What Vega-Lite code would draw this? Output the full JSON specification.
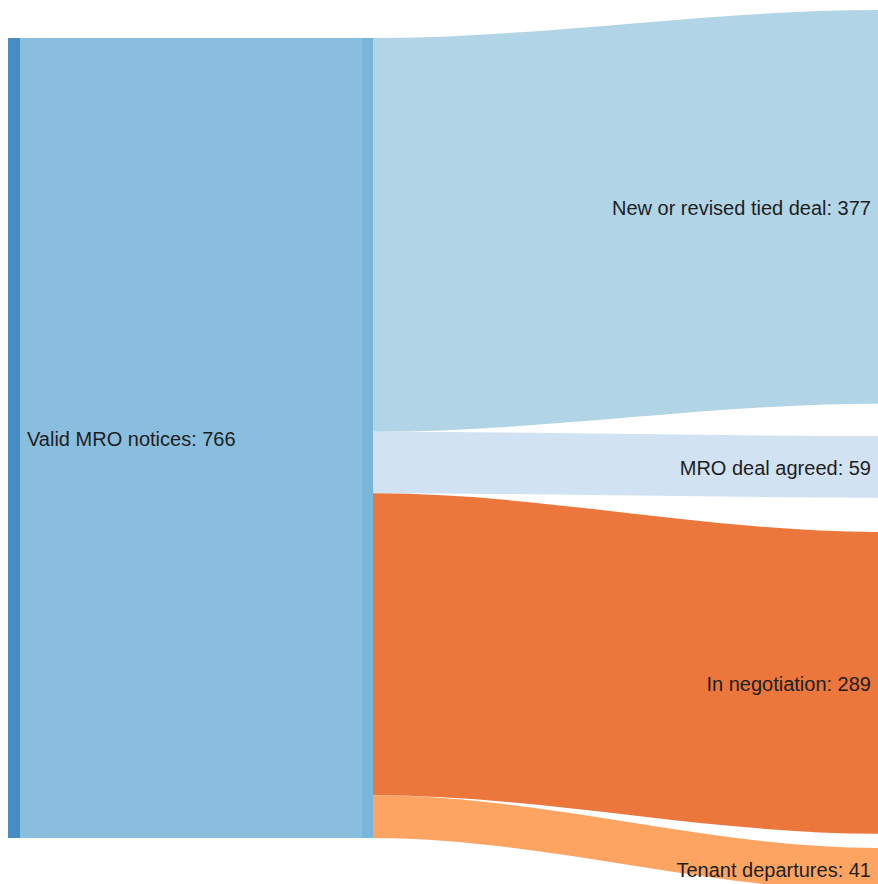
{
  "$schema": "https://vega.github.io/schema/vega-lite/v6.json",
  "width": 878,
  "height": 884,
  "autosize": {"type": "none"},
  "padding": 0,
  "background": "white",
  "config": {"view": {"stroke": null}},
  "datasets": {
    "total": [
      {"name": "Valid MRO notices", "value": 766}
    ],
    "outcomes": [
      {"order": 1, "name": "New or revised tied deal", "value": 377, "pad_above": 9.6},
      {"order": 2, "name": "MRO deal agreed", "value": 59, "pad_above": 30.9},
      {"order": 3, "name": "In negotiation", "value": 289, "pad_above": 32.9},
      {"order": 4, "name": "Tenant departures", "value": 41, "pad_above": 13.6}
    ]
  },
  "layer": [
    {
      "data": {"name": "total"},
      "transform": [
        {"calculate": "36.4", "as": "y_top"},
        {"calculate": "datum.y_top + datum.value", "as": "y_bot"},
        {"calculate": "(datum.y_top + datum.y_bot) / 2", "as": "y_mid"},
        {"calculate": "datum.name + ': ' + datum.value", "as": "label"}
      ],
      "layer": [
        {
          "mark": {"type": "rect", "color": "#6baed6", "opacity": 0.8},
          "encoding": {
            "x": {"datum": 20, "type": "quantitative", "scale": {"domain": [0, 878], "nice": false, "zero": false}, "axis": null},
            "x2": {"datum": 362},
            "y": {"field": "y_top", "type": "quantitative", "scale": {"domain": [0, 846.43], "reverse": true, "nice": false, "zero": false}, "axis": null},
            "y2": {"field": "y_bot"}
          }
        },
        {
          "mark": {"type": "rect", "color": "#3182bd", "opacity": 0.9},
          "encoding": {
            "x": {"datum": 8, "type": "quantitative", "scale": {"domain": [0, 878], "nice": false, "zero": false}, "axis": null},
            "x2": {"datum": 20},
            "y": {"field": "y_top", "type": "quantitative", "scale": {"domain": [0, 846.43], "reverse": true, "nice": false, "zero": false}, "axis": null},
            "y2": {"field": "y_bot"}
          }
        },
        {
          "mark": {"type": "rect", "color": "#6baed6", "opacity": 0.9},
          "encoding": {
            "x": {"datum": 362, "type": "quantitative", "scale": {"domain": [0, 878], "nice": false, "zero": false}, "axis": null},
            "x2": {"datum": 373},
            "y": {"field": "y_top", "type": "quantitative", "scale": {"domain": [0, 846.43], "reverse": true, "nice": false, "zero": false}, "axis": null},
            "y2": {"field": "y_bot"}
          }
        },
        {
          "mark": {"type": "text", "align": "left", "baseline": "middle", "dy": 2, "font": "Liberation Sans", "fontSize": 20, "color": "#1e1e1e"},
          "encoding": {
            "x": {"datum": 27, "type": "quantitative", "scale": {"domain": [0, 878], "nice": false, "zero": false}, "axis": null},
            "y": {"field": "y_mid", "type": "quantitative", "scale": {"domain": [0, 846.43], "reverse": true, "nice": false, "zero": false}, "axis": null},
            "text": {"field": "label"}
          }
        }
      ]
    },
    {
      "data": {"name": "outcomes"},
      "transform": [
        {"window": [{"op": "sum", "field": "value", "as": "cum_src"}], "sort": [{"field": "order"}], "frame": [null, 0]},
        {"calculate": "datum.value + datum.pad_above", "as": "span"},
        {"window": [{"op": "sum", "field": "span", "as": "cum_tgt"}], "sort": [{"field": "order"}], "frame": [null, 0]},
        {"calculate": "36.4 + datum.cum_src", "as": "src_bot"},
        {"calculate": "datum.src_bot - datum.value", "as": "src_top"},
        {"calculate": "datum.cum_tgt", "as": "tgt_bot"},
        {"calculate": "datum.tgt_bot - datum.value", "as": "tgt_top"},
        {"calculate": "(datum.tgt_top + datum.tgt_bot) / 2", "as": "tgt_mid"},
        {"calculate": "datum.name + ': ' + datum.value", "as": "label"}
      ],
      "layer": [
        {
          "transform": [
            {"calculate": "373", "as": "p0"},
            {"calculate": "374", "as": "p1"},
            {"calculate": "877", "as": "p2"},
            {"calculate": "878", "as": "p3"},
            {"fold": ["p0", "p1", "p2", "p3"], "as": ["end", "xpos"]},
            {"calculate": "(datum.end == 'p0' || datum.end == 'p1') ? datum.src_top : datum.tgt_top", "as": "band_top"},
            {"calculate": "(datum.end == 'p0' || datum.end == 'p1') ? datum.src_bot : datum.tgt_bot", "as": "band_bot"}
          ],
          "mark": {"type": "area", "interpolate": "monotone", "opacity": 0.8},
          "encoding": {
            "x": {"field": "xpos", "type": "quantitative", "scale": {"domain": [0, 878], "nice": false, "zero": false}, "axis": null},
            "y": {"field": "band_top", "type": "quantitative", "stack": null, "scale": {"domain": [0, 846.43], "reverse": true, "nice": false, "zero": false}, "axis": null},
            "y2": {"field": "band_bot"},
            "color": {
              "field": "name",
              "type": "nominal",
              "scale": {
                "domain": ["New or revised tied deal", "MRO deal agreed", "In negotiation", "Tenant departures"],
                "range": ["#9ecae1", "#c6dbef", "#e6550d", "#fd8d3c"]
              },
              "legend": null
            }
          }
        },
        {
          "mark": {"type": "text", "align": "right", "baseline": "middle", "dy": 2, "font": "Liberation Sans", "fontSize": 20, "color": "#1e1e1e"},
          "encoding": {
            "x": {"datum": 871, "type": "quantitative", "scale": {"domain": [0, 878], "nice": false, "zero": false}, "axis": null},
            "y": {"field": "tgt_mid", "type": "quantitative", "scale": {"domain": [0, 846.43], "reverse": true, "nice": false, "zero": false}, "axis": null},
            "text": {"field": "label"}
          }
        }
      ]
    }
  ]
}
